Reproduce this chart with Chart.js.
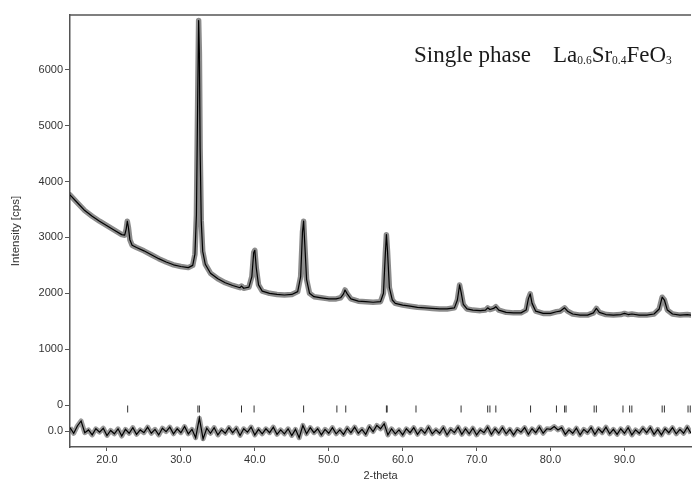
<!DOCTYPE html>
<html>
<head>
<meta charset="utf-8">
<script src="https://cdn.jsdelivr.net/npm/chart.js@4"></script>
<style>
  html, body { margin: 0; padding: 0; background: #fff; }
  #wrap { width: 696px; height: 484px; }
</style>
</head>
<body>
<div id="wrap"><canvas id="xrdChart"></canvas></div>
<script>
// 2-theta / intensity (cps)
var twoTheta = [15.0,16.0,17.0,18.0,19.0,20.0,21.0,22.0,22.4,22.6,22.75,22.9,23.1,23.4,24.0,25.0,26.0,27.0,28.0,29.0,30.0,31.0,31.6,31.9,32.1,32.25,32.4,32.5,32.6,32.75,32.95,33.3,34.0,35.0,36.0,37.0,38.0,38.2,38.5,39.2,39.6,39.85,40.0,40.2,40.5,41.0,42.0,43.0,44.0,45.0,45.8,46.2,46.45,46.6,46.75,47.0,47.4,48.0,49.0,50.0,51.0,51.6,52.0,52.2,52.5,53.0,54.0,55.0,56.0,57.0,57.4,57.65,57.8,57.95,58.2,58.6,59.0,60.0,61.0,62.0,63.0,64.0,65.0,66.0,67.0,67.4,67.7,67.9,68.2,68.7,69.5,70.5,71.2,71.5,71.8,72.3,72.6,73.0,74.0,75.0,76.0,76.7,77.0,77.25,77.5,78.0,79.0,80.0,80.8,81.3,81.9,82.3,83.0,84.0,85.0,85.8,86.2,86.6,87.5,88.5,89.5,90.0,90.5,91.0,92.0,93.0,94.0,94.7,95.1,95.4,95.8,96.5,97.5,98.5,99.0];
var intensity = [3760,3620,3480,3380,3290,3210,3130,3050,3040,3150,3290,3180,2960,2860,2820,2760,2690,2620,2560,2510,2480,2460,2500,2700,3400,5200,6880,6300,4600,3300,2750,2520,2360,2260,2190,2140,2100,2130,2090,2110,2300,2730,2770,2450,2150,2040,2000,1980,1970,1980,2030,2300,3100,3290,2900,2250,2000,1940,1920,1900,1900,1920,1990,2060,1990,1900,1860,1850,1840,1850,2000,2700,3050,2750,2100,1880,1820,1790,1770,1750,1740,1730,1720,1720,1740,1880,2150,2020,1800,1720,1700,1690,1700,1740,1710,1730,1760,1700,1660,1650,1650,1700,1900,1990,1820,1680,1640,1640,1670,1680,1740,1680,1630,1610,1610,1650,1730,1660,1620,1610,1620,1640,1620,1630,1610,1610,1630,1720,1930,1880,1700,1630,1610,1620,1610];

// difference curve (obs - calc), every 0.5 deg from 15.0
var diffStart = 15.0, diffStep = 0.5;
var diffOffset = -464;
var diffValues = [60,-40,90,180,-30,20,-70,40,-20,50,-80,10,-50,40,-90,30,-40,60,-60,20,-30,70,-40,30,-70,50,-10,70,-50,40,-30,80,-50,30,-120,230,-140,50,-40,60,-70,20,-40,60,-30,50,-80,40,-20,70,-70,30,-50,40,-30,70,-60,20,-50,40,-80,30,-120,100,-50,60,-30,40,-70,30,-40,60,-50,20,-60,50,-30,70,-40,30,-60,80,-10,100,40,130,-70,40,-50,20,-70,40,-30,60,-60,30,-40,70,-50,20,-40,60,-70,30,-30,70,-60,40,-50,50,-70,20,-30,70,-60,40,-40,60,-50,30,-70,30,-20,60,-60,40,-30,70,-40,40,30,80,20,60,-60,20,-40,50,-70,30,-30,60,-60,40,-30,70,-50,30,-60,40,-40,60,-70,20,-40,50,-30,60,-60,30,-70,40,-30,60,-50,30,-40,70,-40];

// reflection positions
var braggPos = [22.8,32.3,32.5,38.2,39.9,46.6,51.1,52.3,57.8,57.9,61.8,67.9,71.5,71.8,72.6,77.3,80.8,81.9,82.1,85.9,86.2,89.8,90.7,91.0,95.1,95.4,98.6,98.9];
var braggLevel = -70;

var xTickValues = [20,30,40,50,60,70,80,90];
var yTickValues = [-464,0,1000,2000,3000,4000,5000,6000];
var yTickLabels = ['0.0','0','1000','2000','3000','4000','5000','6000'];

var pattern = twoTheta.map(function(t, i){ return {x: t, y: intensity[i]}; });
var diffData = diffValues.map(function(v, i){ return {x: diffStart + i * diffStep, y: v + diffOffset}; });
var braggData = braggPos.map(function(t){ return {x: t, y: braggLevel}; });

var serif = '"Liberation Serif", "Times New Roman", serif';
var sans = '"Liberation Sans", Arial, sans-serif';

var frame = {
    id: 'frame',
    afterDraw: function(chart){
        var c = chart.ctx, a = chart.chartArea;
        c.save();
        c.strokeStyle = '#555';
        c.lineWidth = 1.5;
        c.beginPath();
        c.moveTo(a.left, a.top);
        c.lineTo(a.right, a.top);
        c.stroke();

        // label in the corner
        c.fillStyle = '#1a1a1a';
        c.textBaseline = 'alphabetic';
        c.font = '23px ' + serif;
        c.fillText('Single phase', 414, 62);
        var parts = [['La', 23], ['0.6', 11.5], ['Sr', 23], ['0.4', 11.5], ['FeO', 23], ['3', 11.5]];
        var x = 553, y = 62;
        parts.forEach(function(p){
            c.font = p[1] + 'px ' + serif;
            c.fillText(p[0], x, p[1] < 20 ? y + 2 : y);
            x += c.measureText(p[0]).width;
        });
        c.restore();
    }
};

var ctx = document.getElementById('xrdChart').getContext('2d');
var xrdChart = new Chart(ctx, {
    type: 'scatter',
    data: {
        datasets: [{
            label: 'obs',
            data: pattern,
            showLine: true,
            borderColor: 'rgba(0,0,0,0.45)',
            borderWidth: 5.5,
            borderJoinStyle: 'round',
            borderCapStyle: 'round',
            pointRadius: 0,
            order: 4
        }, {
            label: 'calc',
            data: pattern,
            showLine: true,
            borderColor: '#000',
            borderWidth: 1.2,
            borderJoinStyle: 'round',
            pointRadius: 0,
            order: 1
        }, {
            label: 'diff band',
            data: diffData,
            showLine: true,
            borderColor: 'rgba(0,0,0,0.4)',
            borderWidth: 5,
            borderJoinStyle: 'round',
            pointRadius: 0,
            order: 3
        }, {
            label: 'diff',
            data: diffData,
            showLine: true,
            borderColor: '#000',
            borderWidth: 1.2,
            pointRadius: 0,
            order: 2
        }, {
            label: 'bragg',
            data: braggData,
            pointStyle: 'line',
            rotation: 90,
            radius: 3.5,
            borderColor: '#333',
            borderWidth: 1,
            order: 5
        }]
    },
    options: {
        responsive: true,
        maintainAspectRatio: false,
        animation: false,
        layout: { padding: { top: 15, right: 0, left: 0, bottom: 0 } },
        plugins: {
            legend: { display: false },
            tooltip: { enabled: false }
        },
        scales: {
            x: {
                type: 'linear',
                min: 15,
                max: 99,
                afterBuildTicks: function(axis){
                    axis.ticks = xTickValues.map(function(v){ return {value: v}; });
                },
                afterFit: function(axis){ axis.height = 37; },
                ticks: {
                    padding: 2,
                    color: '#333',
                    font: { family: sans, size: 11 },
                    callback: function(v){ return v.toFixed(1); }
                },
                grid: { drawOnChartArea: false, drawTicks: true, tickLength: 4, color: '#555' },
                border: { color: '#555', width: 1.5 },
                title: {
                    display: true,
                    text: '2-theta',
                    color: '#333',
                    font: { family: sans, size: 11 },
                    padding: { top: 0, bottom: 1 }
                }
            },
            y: {
                type: 'linear',
                min: -750,
                max: 6980,
                afterBuildTicks: function(axis){
                    axis.ticks = yTickValues.map(function(v){ return {value: v}; });
                },
                afterFit: function(axis){ axis.width = 70; },
                ticks: {
                    padding: 2,
                    color: '#333',
                    font: { family: sans, size: 11 },
                    callback: function(v){ return yTickLabels[yTickValues.indexOf(v)]; }
                },
                grid: { drawOnChartArea: false, drawTicks: true, tickLength: 5, color: '#555' },
                border: { color: '#555', width: 1.5 },
                title: {
                    display: true,
                    text: 'Intensity [cps]',
                    color: '#333',
                    font: { family: sans, size: 11.5 },
                    padding: { top: 9, bottom: 0 }
                }
            }
        }
    },
    plugins: [frame]
});
</script>
</body>
</html>
